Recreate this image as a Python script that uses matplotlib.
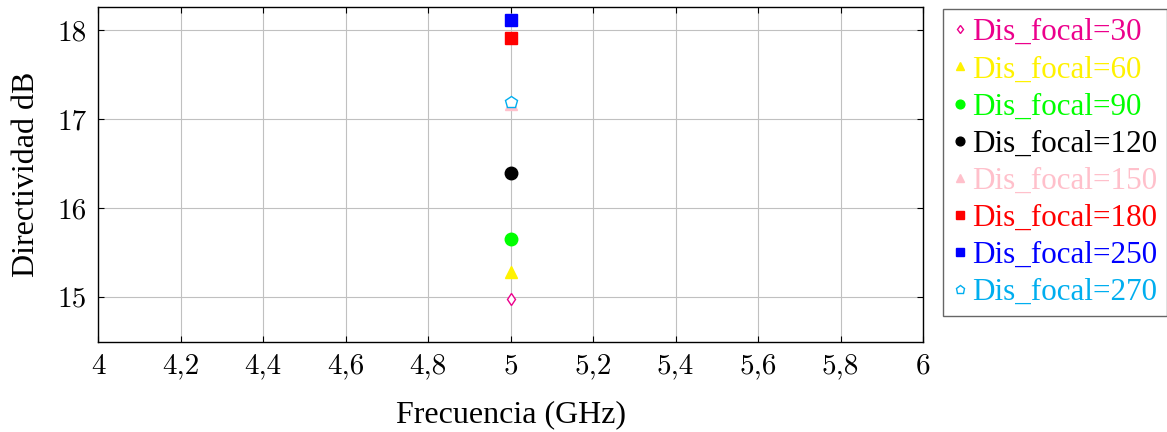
import matplotlib

matplotlib.use("Agg")

import matplotlib.pyplot as plt
import numpy as np
from matplotlib.ticker import FuncFormatter

# Directividad a 5 GHz para cada distancia focal
frequency = [5.0]
focal_labels = [
    "Dis_focal=30",
    "Dis_focal=60",
    "Dis_focal=90",
    "Dis_focal=120",
    "Dis_focal=150",
    "Dis_focal=180",
    "Dis_focal=250",
    "Dis_focal=270",
]
directivity = [14.98, 15.28, 15.65, 16.39, 17.17, 17.91, 18.11, 17.19]

colors = [
    "#EC008C",
    "#FFF200",
    "#00FF00",
    "#000000",
    "#FFC0CB",
    "#FF0000",
    "#0000FF",
    "#00AEEF",
]
markers = ["d", "^", "o", "o", "^", "s", "s", "p"]
filled = [False, True, True, True, True, True, True, False]
sizes = [6.5, 8, 9, 9, 8, 8, 8, 9]

serif = ["Liberation Serif", "DejaVu Serif"]

figure, axis = plt.subplots(figsize=(11.67, 4.32), dpi=100)
figure.subplots_adjust(left=0.084, right=0.791, bottom=0.208, top=0.984)

for label, value, color, marker, is_filled, size in zip(
    focal_labels, directivity, colors, markers, filled, sizes
):
    axis.plot(
        frequency,
        [value],
        linestyle="none",
        marker=marker,
        markersize=size,
        markerfacecolor=color if is_filled else "white",
        markeredgecolor=color,
        markeredgewidth=1.0,
        label=label,
    )

axis.set_xlim(4.0, 6.0)
axis.set_ylim(14.49, 18.26)
axis.set_xticks(np.arange(4.0, 6.01, 0.2))
axis.set_yticks([15, 16, 17, 18])
axis.xaxis.set_major_formatter(
    FuncFormatter(lambda v, _: f"{v:g}".replace(".", ","))
)

axis.grid(True, color="#c0c0c0", linewidth=0.8)
axis.set_axisbelow(True)
axis.tick_params(
    direction="in",
    length=4,
    top=True,
    right=True,
    labelsize=21,
    pad=8,
)
for tick_label in axis.get_xticklabels() + axis.get_yticklabels():
    tick_label.set_fontfamily("cmr10")

for spine in axis.spines.values():
    spine.set_linewidth(1.0)

axis.set_xlabel("Frecuencia (GHz)", fontsize=23, family=serif, labelpad=15)
axis.set_ylabel("Directividad dB", fontsize=23, family=serif, labelpad=12)

legend = axis.legend(
    loc="upper left",
    bbox_to_anchor=(1.024, 0.994),
    frameon=True,
    fancybox=False,
    edgecolor="#404040",
    prop={"family": serif, "size": 22.4},
    handlelength=0.5,
    handletextpad=0.15,
    borderpad=0.3,
    borderaxespad=0.0,
    labelspacing=0.26,
    markerscale=0.7,
)
legend.get_frame().set_linewidth(1.0)
for text, color in zip(legend.get_texts(), colors):
    text.set_color(color)

figure.savefig("out.png", dpi=100)
